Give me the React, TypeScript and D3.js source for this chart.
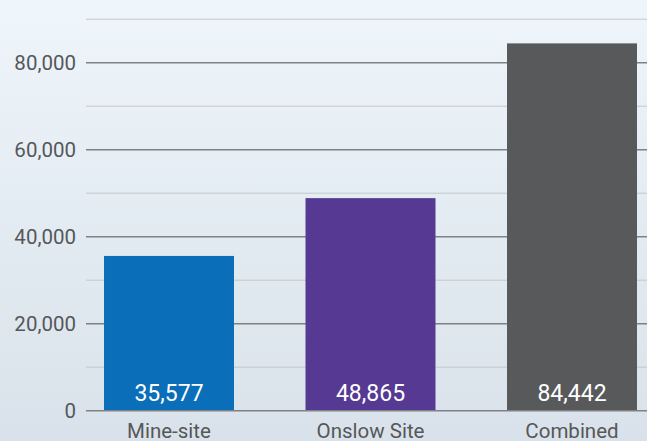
import React from "react";
import * as d3 from "d3";

const categories = ["Mine-site", "Onslow Site", "Combined"];
const values = [35577, 48865, 84442];
const barColors = ["#0a6eb8", "#553993", "#58595b"];
const majorTicks = [0, 20000, 40000, 60000, 80000];
const minorTicks = [10000, 30000, 50000, 70000, 90000];

const W = 647;
const H = 441;

export default function App() {
  const y = d3.scaleLinear().domain([0, 90000]).range([410.7, 19.2]);
  const x = d3
    .scaleBand<string>()
    .domain(categories)
    .range([68.25, 672.75])
    .paddingInner(0.355)
    .paddingOuter(0.1775);
  const fmt = d3.format(",");
  const gridLeft = 86;
  const font = "Roboto, 'Noto Sans', sans-serif";

  return (
    <svg
      width={W}
      height={H}
      style={{ position: "absolute", left: 0, top: 0 }}
      fontFamily={font}
    >
      <defs>
        <linearGradient id="bg" x1="0" y1="0" x2="0" y2="1">
          <stop offset="0" stopColor="#eef5fb" />
          <stop offset="1" stopColor="#d9e2ea" />
        </linearGradient>
      </defs>
      <rect x={0} y={0} width={W} height={H} fill="url(#bg)" />
      {minorTicks.map((t) => (
        <line
          key={"mi" + t}
          x1={gridLeft}
          x2={W}
          y1={y(t)}
          y2={y(t)}
          stroke="#c5c7c9"
          strokeWidth={1}
        />
      ))}
      {majorTicks.map((t) => (
        <line
          key={"ma" + t}
          x1={gridLeft}
          x2={W}
          y1={y(t)}
          y2={y(t)}
          stroke="#7f8285"
          strokeWidth={1.4}
        />
      ))}
      {majorTicks.map((t) => (
        <text
          key={"tl" + t}
          x={76}
          y={y(t) + 7.5}
          textAnchor="end"
          fontSize={20.5}
          fill="#555759"
        >
          {fmt(t)}
        </text>
      ))}
      {categories.map((c, i) => (
        <g key={c}>
          <rect
            x={x(c)}
            y={y(values[i])}
            width={x.bandwidth()}
            height={y(0) - y(values[i]) - 0.7}
            fill={barColors[i]}
          />
          <text
            x={(x(c) as number) + x.bandwidth() / 2}
            y={400.5}
            textAnchor="middle"
            fontSize={23}
            fill="#ffffff"
          >
            {fmt(values[i])}
          </text>
          <text
            x={(x(c) as number) + x.bandwidth() / 2}
            y={438}
            textAnchor="middle"
            fontSize={20.5}
            fill="#555759"
          >
            {c}
          </text>
        </g>
      ))}
    </svg>
  );
}
